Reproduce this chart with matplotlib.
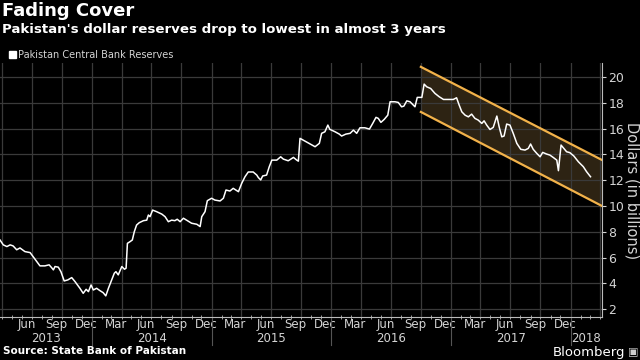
import matplotlib
matplotlib.use("Agg")
import matplotlib.pyplot as plt
import matplotlib.dates as mdates
import matplotlib.transforms as mtransforms
from matplotlib.patches import Patch
import pandas as pd

# Reservas del banco central de Pakistan (miles de millones de dolares)
dates = [
    "2013-03-26", "2013-04-05", "2013-04-16", "2013-04-26", "2013-05-05", "2013-05-16",
    "2013-05-26", "2013-06-10", "2013-06-26", "2013-07-05", "2013-07-16", "2013-07-26",
    "2013-08-10", "2013-08-23", "2013-08-31", "2013-09-05", "2013-09-10", "2013-09-20",
    "2013-09-28", "2013-10-08", "2013-10-19", "2013-10-31", "2013-11-10", "2013-11-25",
    "2013-12-05", "2013-12-14", "2013-12-21", "2013-12-29", "2014-01-05", "2014-01-15",
    "2014-01-25", "2014-02-04", "2014-02-12", "2014-02-20", "2014-02-28", "2014-03-10",
    "2014-03-15", "2014-03-22", "2014-04-02", "2014-04-10", "2014-04-15", "2014-04-19",
    "2014-04-27", "2014-05-04", "2014-05-10", "2014-05-17", "2014-05-25", "2014-06-07",
    "2014-06-17", "2014-06-22", "2014-06-27", "2014-07-05", "2014-07-17", "2014-08-02",
    "2014-08-12", "2014-08-22", "2014-09-01", "2014-09-11", "2014-09-18", "2014-09-27",
    "2014-10-07", "2014-10-19", "2014-11-01", "2014-11-17", "2014-11-27", "2014-12-02",
    "2014-12-12", "2014-12-19", "2015-01-01", "2015-01-11", "2015-01-27", "2015-02-06",
    "2015-02-14", "2015-02-26", "2015-03-08", "2015-03-24", "2015-04-03", "2015-04-13",
    "2015-04-23", "2015-05-08", "2015-05-19", "2015-05-24", "2015-05-31", "2015-06-06",
    "2015-06-18", "2015-06-26", "2015-07-04", "2015-07-19", "2015-07-31", "2015-08-08",
    "2015-08-23", "2015-09-08", "2015-09-18", "2015-09-23", "2015-09-28", "2015-10-13",
    "2015-10-29", "2015-11-13", "2015-11-26", "2015-12-03", "2015-12-13", "2015-12-22",
    "2015-12-28", "2016-01-13", "2016-01-26", "2016-02-02", "2016-02-15", "2016-02-28",
    "2016-03-09", "2016-03-19", "2016-03-29", "2016-04-13", "2016-04-27", "2016-05-07",
    "2016-05-17", "2016-05-24", "2016-06-01", "2016-06-11", "2016-06-22", "2016-06-29",
    "2016-07-14", "2016-07-24", "2016-08-03", "2016-08-10", "2016-08-19", "2016-08-29",
    "2016-09-08", "2016-09-13", "2016-09-20", "2016-10-04", "2016-10-11", "2016-10-19",
    "2016-10-31", "2016-11-13", "2016-11-26", "2016-12-09", "2016-12-24", "2017-01-08",
    "2017-01-18", "2017-01-26", "2017-02-03", "2017-02-13", "2017-02-23", "2017-03-05",
    "2017-03-15", "2017-03-25", "2017-04-05", "2017-04-12", "2017-04-20", "2017-04-30",
    "2017-05-10", "2017-05-21", "2017-05-28", "2017-06-05", "2017-06-12", "2017-06-20",
    "2017-06-30", "2017-07-10", "2017-07-21", "2017-08-02", "2017-08-15", "2017-08-25",
    "2017-09-01", "2017-09-09", "2017-09-20", "2017-09-30", "2017-10-08", "2017-10-20",
    "2017-10-30", "2017-11-09", "2017-11-20", "2017-11-25", "2017-12-03", "2017-12-10",
    "2017-12-20", "2017-12-30", "2018-01-11", "2018-01-25", "2018-02-09", "2018-02-19",
    "2018-03-03",
]
reserves = [
    7.36, 6.98, 6.85, 6.98, 6.90, 6.60,
    6.74, 6.46, 6.38, 6.07, 5.68, 5.35,
    5.35, 5.43, 5.20, 5.04, 5.30, 5.25,
    4.90, 4.18, 4.26, 4.44, 4.13, 3.61,
    3.22, 3.53, 3.35, 3.87, 3.48, 3.61,
    3.43, 3.27, 3.02, 3.61, 4.13, 4.78,
    4.90, 4.65, 5.30, 5.09, 5.17, 7.10,
    7.23, 7.36, 8.00, 8.52, 8.70, 8.86,
    8.90, 9.30, 9.17, 9.68, 9.56, 9.37,
    9.17, 8.78, 8.90, 8.86, 8.97, 8.78,
    9.05, 8.86, 8.66, 8.58, 8.40, 9.17,
    9.56, 10.41, 10.60, 10.46, 10.39, 10.60,
    11.24, 11.16, 11.37, 11.11, 11.76, 12.27,
    12.64, 12.64, 12.40, 12.20, 12.02, 12.33,
    12.40, 13.04, 13.56, 13.56, 13.82, 13.64,
    13.51, 13.77, 13.56, 13.48, 15.25, 15.04,
    14.81, 14.60, 14.86, 15.64, 15.76, 16.28,
    15.95, 15.76, 15.58, 15.43, 15.58, 15.64,
    15.89, 15.64, 16.07, 16.07, 15.97, 16.41,
    16.88, 16.80, 16.49, 16.72, 17.05, 18.09,
    18.09, 18.04, 17.70, 17.75, 18.16, 18.09,
    17.83, 17.70, 18.43, 18.43, 19.46, 19.25,
    19.12, 18.74, 18.48, 18.27, 18.27, 18.27,
    18.40, 17.83, 17.31, 17.05, 16.92, 17.13,
    16.80, 16.67, 16.41, 16.61, 16.28, 15.94,
    16.10, 16.98, 16.15, 15.37, 15.43, 16.36,
    16.28, 15.64, 14.86, 14.40, 14.34, 14.47,
    14.81, 14.40, 14.08, 13.82, 14.16, 14.03,
    13.95, 13.77, 13.56, 12.74, 14.73, 14.52,
    14.21, 14.14, 13.88, 13.43, 13.05, 12.66,
    12.27,
]

# Canal descendente (inicio y fin)
channel_dates = ["2016-10-01", "2018-04-07"]
channel_upper = [20.8, 13.57]
channel_lower = [17.3, 10.0]

y_ticks = [2, 4, 6, 8, 10, 12, 14, 16, 18, 20]
years = [2013, 2014, 2015, 2016, 2017, 2018]
# ultima etiqueta de mes que aparece
last_month_label = "2017-12-31"

x = pd.to_datetime(dates)
cx = pd.to_datetime(channel_dates)
x_start, x_end = x[0], cx[-1]

bg = "black"
grid_col = "#3a3a3a"
txt_col = "#d4d4d4"
chan_col = "#f2b24a"

fig = plt.figure(figsize=(6.4, 3.6), dpi=100, facecolor=bg)
ax = fig.add_axes([0.0, 0.1194, 0.9406, 0.7056], facecolor=bg)

# Canal
ax.fill_between(cx, channel_lower, channel_upper, color="#2d2313", zorder=1, lw=0)
ax.plot(cx, channel_upper, color=chan_col, lw=1.6, zorder=2)
ax.plot(cx, channel_lower, color=chan_col, lw=1.6, zorder=2)

# Serie
ax.plot(x, reserves, color="white", lw=1.1, zorder=3)

ax.set_xlim(x_start, x_end)
ax.set_ylim(1.38, 21.1)

# Eje Y a la derecha
ax.yaxis.tick_right()
ax.set_yticks(y_ticks)
ax.tick_params(axis="y", colors=txt_col, labelsize=9, length=3, width=0.8, pad=1.5)
ax.grid(axis="y", color=grid_col, lw=0.9)
fig.text(0.988, 0.472, "Dollars (in billions)", color=txt_col, fontsize=10.5,
         rotation=270, ha="center", va="center")

# Eje X: lineas de trimestre, etiquetas de mes centradas
ax.xaxis.set_major_locator(mdates.MonthLocator(bymonth=[1, 4, 7, 10]))
ax.xaxis.set_major_formatter(plt.NullFormatter())
label_days = pd.date_range(x_start, last_month_label, freq="MS") + pd.Timedelta(days=14)
label_days = [d for d in label_days if d.month in (3, 6, 9, 12) and d >= x_start]
ax.set_xticks(label_days, minor=True)
ax.xaxis.set_minor_formatter(mdates.DateFormatter("%b"))
ax.tick_params(axis="x", which="major", length=0)
ax.tick_params(axis="x", which="minor", length=0, colors=txt_col, labelsize=8.5, pad=1)
ax.grid(axis="x", which="major", color=grid_col, lw=0.9)

# Marcas mensuales pequenas
sec = ax.secondary_xaxis("bottom")
sec.xaxis.set_major_locator(mdates.MonthLocator())
sec.xaxis.set_major_formatter(plt.NullFormatter())
sec.tick_params(axis="x", length=2.5, width=0.6, color="#bbbbbb", direction="inout")
sec.spines["bottom"].set_visible(False)

for side in ["top", "left"]:
    ax.spines[side].set_visible(False)
ax.spines["bottom"].set_color("#bbbbbb")
ax.spines["right"].set_color("#bbbbbb")

# Etiquetas de anio y separadores
trans = mtransforms.blended_transform_factory(ax.transData, ax.transAxes)
for yr in years:
    a = max(pd.Timestamp(f"{yr}-01-01"), x_start)
    b = min(pd.Timestamp(f"{yr + 1}-01-01"), x_end)
    mid = a + (b - a) / 2
    ax.text(mid, -0.058, str(yr), transform=trans, ha="center", va="top",
            color=txt_col, fontsize=8.5)
    if yr > years[0]:
        jan = pd.Timestamp(f"{yr}-01-01")
        ax.plot([jan, jan], [0, -0.11], transform=trans, color="#555555",
                lw=0.8, clip_on=False)

# Titulos
fig.text(0.003, 0.995, "Fading Cover", color="white", fontsize=13,
         fontweight="bold", va="top", ha="left")
fig.text(0.003, 0.935, "Pakistan's dollar reserves drop to lowest in almost 3 years",
         color="white", fontsize=9.6, fontweight="bold", va="top", ha="left")

leg = fig.legend(handles=[Patch(facecolor="white", edgecolor="white")],
                 labels=["Pakistan Central Bank Reserves"],
                 loc="upper left", bbox_to_anchor=(0.0, 0.885), frameon=False,
                 handlelength=0.7, handleheight=0.7, handletextpad=0.3,
                 fontsize=7, labelcolor=txt_col)

fig.text(0.004, 0.01, "Source: State Bank of Pakistan", color="white",
         fontsize=7.5, fontweight="bold", va="bottom", ha="left")
fig.text(0.977, 0.002, "Bloomberg", color="white", fontsize=9.5,
         va="bottom", ha="right")
fig.text(0.997, 0.008, "\u25a3", color="#cccccc", fontsize=8, va="bottom", ha="right")

fig.savefig("out.png", dpi=100, facecolor=bg)
